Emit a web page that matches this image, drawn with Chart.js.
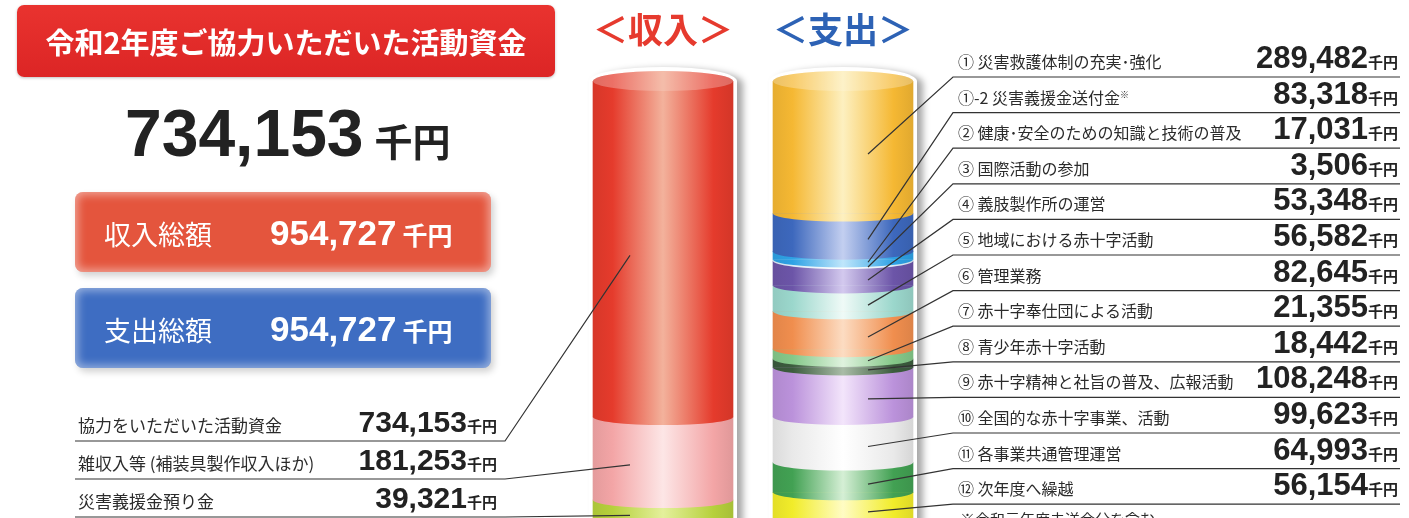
<!DOCTYPE html>
<html>
<head>
<meta charset="utf-8">
<script src="https://cdn.jsdelivr.net/npm/chart.js@4.4.1/dist/chart.umd.min.js"></script>
<style>
  html, body { margin: 0; padding: 0; background: #fff; overflow: hidden; }
  body { width: 1409px; height: 518px; position: relative; font-family: "Noto Sans CJK JP", sans-serif; color: #2b2b2b; }
  #chart { position: absolute; left: 0; top: 0; }
  .abs { position: absolute; }
  .num { font-family: "Liberation Sans", Arial, sans-serif; font-weight: 700; }
  .title { left: 17px; top: 5px; width: 538px; height: 72px; border-radius: 7px;
    background: linear-gradient(#e9332f, #dc2525); color: #fff; font-size: 29px; font-weight: 700;
    display: flex; align-items: center; justify-content: center; box-shadow: 0 1px 3px rgba(0,0,0,0.25); }
  .big { left: 125px; top: 100px; display: flex; align-items: baseline; line-height: 1; color: #222; }
  .big .num { font-size: 66px; }
  .big .unit { font-size: 38px; font-weight: 700; margin-left: 11px; }
  .box { left: 75px; width: 416px; height: 80px; border-radius: 8px; color: #fff;
    display: flex; align-items: center; box-shadow: inset 0 0 9px 3px rgba(255,255,255,0.45), 3px 4px 7px rgba(0,0,0,0.18); }
  .box .in { display: flex; align-items: baseline; line-height: 1; margin-left: 29px; }
  .box .lbl { font-size: 27px; width: 166px; }
  .box .num { font-size: 35px; }
  .box .unit { font-size: 25px; font-weight: 700; margin-left: 6px; }
  .head { width: 160px; text-align: center; top: 10px; font-size: 35px; font-weight: 700; line-height: 1; }
  .row { display: flex; align-items: baseline; justify-content: space-between; line-height: 1; }
  .row .val { white-space: nowrap; color: #222; }
  .row sup { font-size: 9px; vertical-align: 6px; }
  .note { left: 960px; top: 508px; font-size: 15px; }
</style>
</head>
<body>
<canvas id="chart" width="1409" height="518"></canvas>
<div id="overlay"></div>
<script>
// columns
const columns = ['収入', '支出'];

// income side (top to bottom)
const incomeLabels = ['協力をいただいた活動資金', '雑収入等 (補装具製作収入ほか)', '災害義援金預り金'];
const incomeValues = [734153, 181253, 39321];

// expenditure side (top to bottom)
const expenseLabels = [
  '① 災害救護体制の充実･強化',
  '①-2 災害義援金送付金※',
  '② 健康･安全のための知識と技術の普及',
  '③ 国際活動の参加',
  '④ 義肢製作所の運営',
  '⑤ 地域における赤十字活動',
  '⑥ 管理業務',
  '⑦ 赤十字奉仕団による活動',
  '⑧ 青少年赤十字活動',
  '⑨ 赤十字精神と社旨の普及、広報活動',
  '⑩ 全国的な赤十字事業、活動',
  '⑪ 各事業共通管理運営',
  '⑫ 次年度へ繰越'
];
const expenseValues = [289482, 83318, 17031, 3506, 53348, 56582, 82645, 21355, 18442, 108248, 99623, 64993, 56154];

const donationTotal = 734153;
const note = '※令和元年度未送金分を含む';

// colours (base, highlight)
const incomeColors = [['#e53b2c', '#f3b29c'], ['#f3a5a6', '#fde6e6'], ['#b6d03c', '#e4f09c']];
const expenseColors = [
  ['#f5b833', '#fdf0c0'], ['#3d68bd', '#c3cff0'], ['#2ea2e5', '#bfe6fb'], ['#dcecf7', '#ffffff'],
  ['#6c55a8', '#d3c9ee'], ['#9bd7cc', '#effaf7'], ['#f08e4e', '#fcdcc2'], ['#85c889', '#dff2de'],
  ['#3c5c3e', '#a9bca7'], ['#bb92db', '#f3e5fb'], ['#e9e9e9', '#ffffff'], ['#42a153', '#d5efd5'],
  ['#f1ec2a', '#fffcc4']
];

const BAR_W = 140, RX = 70, RY_TOP = 10, RY_SEG = 8;
const EX_ROW_Y0 = 77, EX_ROW_STEP = 35.6;
const IN_ROW_Y0 = 441, IN_ROW_STEP = 38;

const sum = a => a.reduce((s, v) => s + v, 0);
const fmt = v => v.toLocaleString('en-US');

// text overlay
let html = '';
html += `<div class="abs title">令和2年度ご協力いただいた活動資金</div>`;
html += `<div class="abs big"><span class="num">${fmt(donationTotal)}</span><span class="unit">千円</span></div>`;
html += `<div class="abs box" style="top:192px;background:#e4553d"><div class="in"><span class="lbl">収入総額</span><span class="num">${fmt(sum(incomeValues))}</span><span class="unit">千円</span></div></div>`;
html += `<div class="abs box" style="top:288px;background:#3e6dc2"><div class="in"><span class="lbl">支出総額</span><span class="num">${fmt(sum(expenseValues))}</span><span class="unit">千円</span></div></div>`;
html += `<div class="abs head" style="left:583px;color:#e63a2e">＜${columns[0]}＞</div>`;
html += `<div class="abs head" style="left:763px;color:#2d62b5">＜${columns[1]}＞</div>`;
incomeLabels.forEach((l, i) => {
  const top = IN_ROW_Y0 + IN_ROW_STEP * i - 34;
  html += `<div class="abs row" style="left:78px;width:419px;top:${top}px"><span style="font-size:17px">${l}</span>` +
    `<span class="val"><span class="num" style="font-size:30px">${fmt(incomeValues[i])}</span><span style="font-size:15px;font-weight:700">千円</span></span></div>`;
});
expenseLabels.forEach((l, i) => {
  const top = EX_ROW_Y0 + EX_ROW_STEP * i - 35;
  const label = l.replace('※', '<sup>※</sup>');
  html += `<div class="abs row" style="left:958px;width:440px;top:${top}px"><span style="font-size:16px">${label}</span>` +
    `<span class="val"><span class="num" style="font-size:31px">${fmt(expenseValues[i])}</span><span style="font-size:15px;font-weight:700">千円</span></span></div>`;
});
html += `<div class="abs note">${note}</div>`;
document.getElementById('overlay').innerHTML = html;

function shade(hex, f) {
  const n = parseInt(hex.slice(1), 16);
  const t = f < 0 ? 0 : 255, p = Math.abs(f);
  return '#' + [n >> 16, (n >> 8) & 255, n & 255]
    .map(x => Math.round(x + (t - x) * p).toString(16).padStart(2, '0')).join('');
}

function sideGradient(ctx, cx, base, light) {
  const g = ctx.createLinearGradient(cx - BAR_W / 2, 0, cx + BAR_W / 2, 0);
  g.addColorStop(0, shade(base, -0.06));
  g.addColorStop(0.14, base);
  g.addColorStop(0.5, light);
  g.addColorStop(0.86, base);
  g.addColorStop(1, shade(base, -0.08));
  return g;
}

function fillFor(c, pair) {
  const xs = c.chart.scales.x;
  const cx = xs ? xs.getPixelForValue(c.dataIndex) : NaN;
  if (!isFinite(cx)) return pair[0];
  return sideGradient(c.chart.ctx, cx, pair[0], pair[1]);
}

const datasets = [];
incomeValues.forEach((v, i) => datasets.push({
  label: incomeLabels[i], data: [v, null], column: 0, row: i, colors: incomeColors[i],
  backgroundColor: c => fillFor(c, incomeColors[i])
}));
expenseValues.forEach((v, i) => datasets.push({
  label: expenseLabels[i], data: [null, v], column: 1, row: i, colors: expenseColors[i],
  backgroundColor: c => fillFor(c, expenseColors[i])
}));

const cylinderPlugin = {
  id: 'cylinder',
  beforeDatasetsDraw(chart) {
    // white rim with a soft shadow behind each column
    const { ctx, chartArea: a } = chart;
    columns.forEach((_, i) => {
      const cx = chart.scales.x.getPixelForValue(i);
      ctx.save();
      ctx.fillStyle = '#fff';
      ctx.shadowColor = 'rgba(0,0,0,0.35)';
      ctx.shadowBlur = 7; ctx.shadowOffsetX = 6; ctx.shadowOffsetY = 2;
      ctx.beginPath();
      ctx.ellipse(cx, a.top, RX + 4, RY_TOP + 4, 0, Math.PI, 0);
      ctx.lineTo(cx + RX + 4, a.bottom + 20);
      ctx.lineTo(cx - RX - 4, a.bottom + 20);
      ctx.closePath();
      ctx.fill();
      ctx.restore();
    });
  },
  afterDatasetsDraw(chart) {
    const { ctx, chartArea: a } = chart;
    // curved front edge of each band, drawn bottom-up
    for (let d = chart.data.datasets.length - 1; d >= 0; d--) {
      const ds = chart.data.datasets[d];
      const el = chart.getDatasetMeta(d).data[ds.column];
      if (!el || !isFinite(el.y) || !isFinite(el.base)) continue;
      const bottom = Math.max(el.y, el.base);
      ctx.save();
      ctx.fillStyle = sideGradient(ctx, el.x, ds.colors[0], ds.colors[1]);
      ctx.beginPath();
      ctx.ellipse(el.x, bottom, RX, RY_SEG, 0, 0, Math.PI);
      ctx.closePath();
      ctx.fill();
      ctx.restore();
    }
    // top face
    columns.forEach((_, i) => {
      const top = chart.data.datasets.find(ds => ds.column === i);
      const cx = chart.scales.x.getPixelForValue(i);
      ctx.save();
      ctx.fillStyle = sideGradient(ctx, cx, shade(top.colors[0], 0.15), top.colors[1]);
      ctx.beginPath();
      ctx.ellipse(cx, a.top, RX, RY_TOP, 0, 0, Math.PI * 2);
      ctx.fill();
      ctx.fillStyle = 'rgba(255,255,255,0.15)';
      ctx.fill();
      ctx.restore();
    });
  },
  afterDraw(chart) {
    const ctx = chart.ctx;
    ctx.save();
    ctx.strokeStyle = '#333';
    ctx.lineWidth = 1.2;
    chart.data.datasets.forEach((ds, d) => {
      const el = chart.getDatasetMeta(d).data[ds.column];
      if (!el) return;
      const dx = ds.column === 0 ? -33 : 25;
      const y = (el.y + el.base) / 2 + RY_SEG * Math.sqrt(1 - (dx / RX) ** 2) * 0.9;
      ctx.beginPath();
      if (ds.column === 0) {
        const rowY = IN_ROW_Y0 + IN_ROW_STEP * ds.row;
        ctx.moveTo(75, rowY); ctx.lineTo(505, rowY); ctx.lineTo(el.x + dx, y);
      } else {
        const rowY = EX_ROW_Y0 + EX_ROW_STEP * ds.row;
        ctx.moveTo(el.x + dx, y); ctx.lineTo(953, rowY); ctx.lineTo(1400, rowY);
      }
      ctx.stroke();
    });
    ctx.restore();
  }
};

new Chart(document.getElementById('chart'), {
  type: 'bar',
  data: { labels: columns, datasets },
  options: {
    responsive: false,
    animation: false,
    layout: { padding: { left: 573, right: 476, top: 81, bottom: 0 } },
    datasets: { bar: { barThickness: BAR_W, borderWidth: 0 } },
    scales: {
      x: { stacked: true, display: false },
      y: { stacked: true, display: false, reverse: true, min: 0, max: sum(expenseValues) }
    },
    plugins: { legend: { display: false }, tooltip: { enabled: false } }
  },
  plugins: [cylinderPlugin]
});
</script>
</body>
</html>
